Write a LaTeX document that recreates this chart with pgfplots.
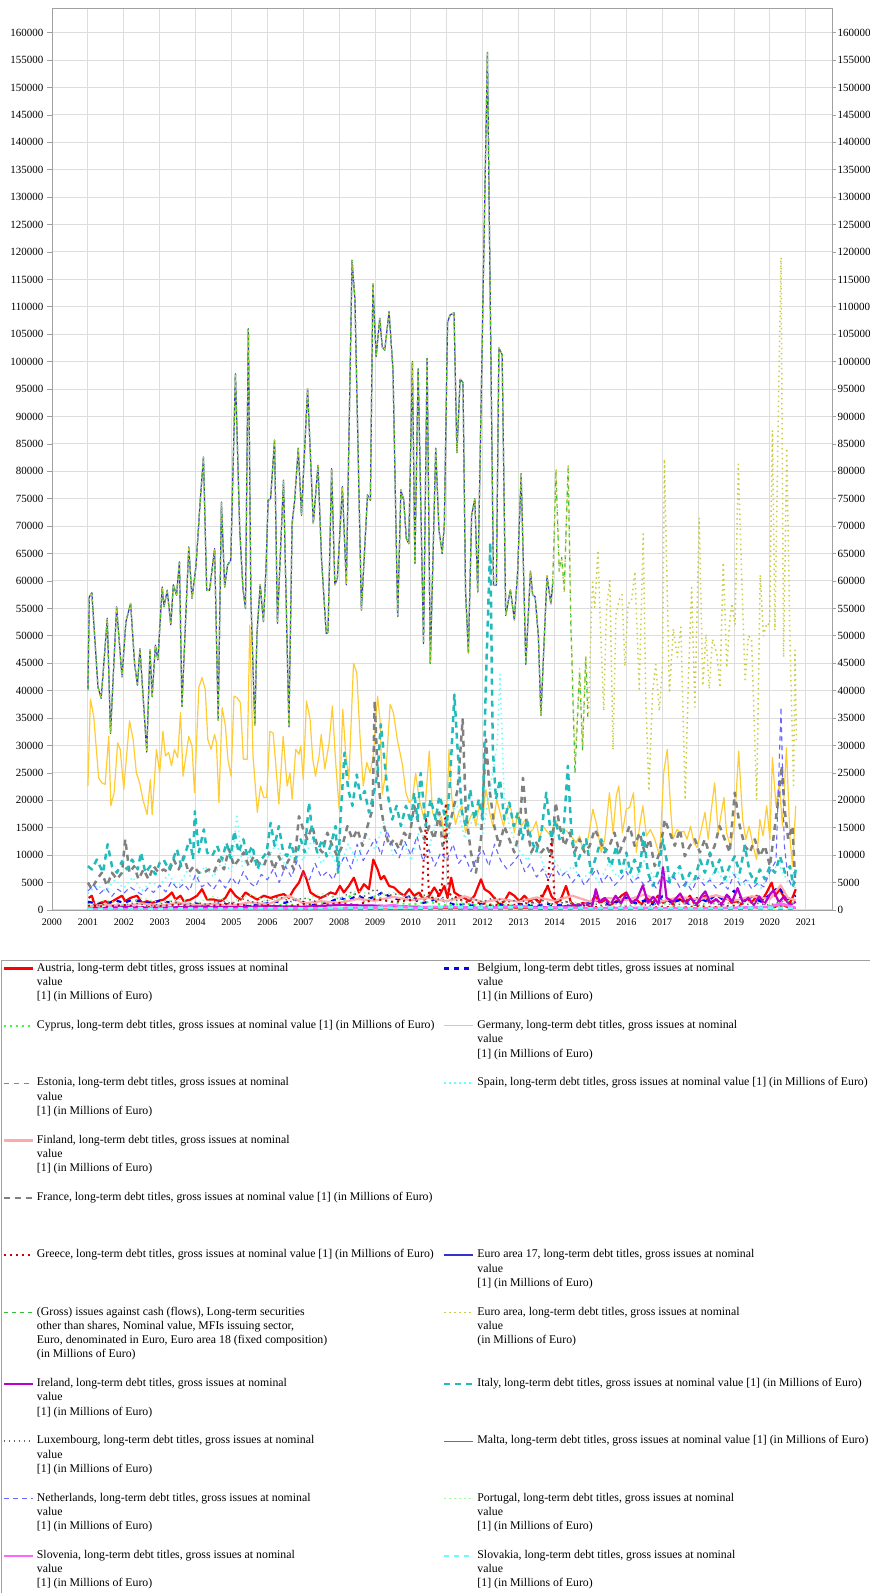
\documentclass[border=0pt]{standalone}
\usepackage{fontspec}
\setmainfont{Liberation Serif}
\newfontfamily\legfont{Liberation Serif}
\usepackage{pgfplots}
\usepackage{pgfplotstable}
\pgfplotsset{compat=1.18}
\definecolor{cAT}{HTML}{FF0000}
\definecolor{cBE}{HTML}{0000FF}
\definecolor{cCY}{HTML}{33FF33}
\definecolor{cDE}{HTML}{FFCC33}
\definecolor{cEE}{HTML}{FF33FF}
\definecolor{cES}{HTML}{66FFFF}
\definecolor{cFI}{HTML}{FFAAAA}
\definecolor{cFR}{HTML}{808080}
\definecolor{cGR}{HTML}{CC0000}
\definecolor{cEAS}{HTML}{3333CC}
\definecolor{cGI}{HTML}{33BB33}
\definecolor{cEA}{HTML}{CCCC44}
\definecolor{cIE}{HTML}{BB00CC}
\definecolor{cIT}{HTML}{22BBBB}
\definecolor{cLU}{HTML}{666666}
\definecolor{cMT}{HTML}{FF3333}
\definecolor{cNL}{HTML}{6666FF}
\definecolor{cPT}{HTML}{99FF99}
\definecolor{cSI}{HTML}{FF66FF}
\definecolor{cSK}{HTML}{66FFFF}
\definecolor{gridgray}{HTML}{DDDDDD}
\definecolor{axisgray}{HTML}{A0A0A0}
\protected\def\LTtxt{long-term debt titles, gross issues at nominal}
\protected\def\Three#1{#1, \LTtxt\newline value\newline \relax[1] (in Millions of Euro)}
\protected\def\One#1{\mbox{#1, \LTtxt\ value [1] (in Millions of Euro)}}
\protected\def\LL#1#2{\parbox[t][#1][t]{405pt}{\raggedright\strut#2}}
\protected\def\LR#1#2{\parbox[t][#1][t]{440pt}{\raggedright\strut#2}}

\pgfplotstableread{
x y
2001.00 40100
2001.04 57100
2001.11 57850
2001.28 40700
2001.37 38600
2001.54 53200
2001.63 32200
2001.80 55300
2001.95 42500
2002.06 52600
2002.19 55900
2002.30 45000
2002.38 41000
2002.45 47700
2002.64 28800
2002.73 47400
2002.79 38900
2002.88 48300
2002.95 45600
2003.07 58900
2003.12 55300
2003.21 58300
2003.31 52000
2003.38 59300
2003.47 57400
2003.55 63500
2003.62 37100
2003.73 54100
2003.81 66200
2003.90 56800
2004.01 62600
2004.13 74700
2004.22 82600
2004.31 58300
2004.39 58300
2004.53 65900
2004.63 34600
2004.72 74400
2004.81 58900
2004.89 62900
2004.98 63800
2005.11 97800
2005.23 69300
2005.32 58600
2005.39 55000
2005.47 106000
2005.54 57100
2005.65 33700
2005.71 50400
2005.80 59300
2005.89 52600
2005.96 62000
2006.02 74700
2006.09 75000
2006.20 85700
2006.28 52300
2006.45 78400
2006.60 33400
2006.69 70500
2006.76 74700
2006.86 84200
2006.95 72000
2007.12 95100
2007.28 70500
2007.41 81100
2007.51 63800
2007.64 50400
2007.69 50700
2007.79 80500
2007.88 59300
2007.95 60500
2008.09 77200
2008.20 59300
2008.36 118500
2008.44 111200
2008.62 54700
2008.79 75700
2008.87 74700
2008.94 114200
2009.03 100900
2009.13 107900
2009.20 102700
2009.27 102100
2009.39 109100
2009.50 98400
2009.63 53500
2009.72 76600
2009.80 74700
2009.87 67800
2009.94 66800
2010.04 100000
2010.11 63200
2010.20 98700
2010.35 48600
2010.45 100600
2010.54 45000
2010.69 84200
2010.78 69300
2010.87 65000
2010.93 70300
2011.02 107200
2011.09 108500
2011.20 108900
2011.28 83400
2011.37 96800
2011.45 96200
2011.52 58400
2011.60 46900
2011.69 72000
2011.78 75000
2011.86 58000
2012.13 156400
2012.30 59200
2012.38 59200
2012.45 102500
2012.54 101300
2012.64 53700
2012.77 58400
2012.88 52900
2012.97 61400
2013.07 79600
2013.20 44800
2013.33 61800
2013.39 57500
2013.46 57100
2013.55 49900
2013.62 35500
2013.79 60900
2013.90 55800
2013.95 59700
}\eaS

\begin{document}
\begin{tikzpicture}[x=1pt,y=1pt]
\useasboundingbox (0,0) rectangle (870,1593);
\begin{axis}[
  at={(52pt,683pt)}, anchor=south west,
  scale only axis, width=780pt, height=902pt,
  xmin=2000, xmax=2021.73, ymin=0, ymax=164500,
  xtick={2000,2001,...,2021}, ytick={0,5000,...,160000},
  scaled ticks=false,
  /pgf/number format/fixed,
  /pgf/number format/1000 sep={},
  /pgf/number format/assume math mode=true,
  grid=major, major grid style={draw=gridgray, line width=1pt},
  axis line style={draw=axisgray, line width=0.9pt},
  ytick pos=left, xtick pos=bottom, tick align=outside,
  major tick length=5pt,
  xtick style={draw=none},
  ytick style={draw=axisgray, line width=0.8pt},
  yticklabel style={font=\fontsize{11}{13}\selectfont},
  xticklabel style={font=\fontsize{10}{12}\selectfont},
  every axis plot/.append style={line join=round},
  legend columns=2,
  legend style={at={(-0.0654,-0.0554)}, anchor=north west,
    draw=axisgray, line width=0.9pt, fill=white,
    inner xsep=0pt, inner ysep=1pt, row sep=0pt, column sep=0pt,
    cells={anchor=base west},
    nodes={inner sep=0pt, text depth=},
    font=\legfont\fontsize{11.8}{14.2}\selectfont},
  legend image code/.code={\path (0pt,2.5pt) (33pt,2.5pt); \draw[#1] (1pt,2.8pt) -- (30pt,2.8pt);},
]
% Austria
\addplot[cAT, line width=2.2pt] table {
2001.02 2200
2001.11 2600
2001.20 700
2001.34 1300
2001.48 1600
2001.62 1300
2001.76 1900
2001.95 2600
2002.04 1600
2002.18 2200
2002.37 2600
2002.51 1300
2002.65 1600
2002.79 1300
2002.93 1600
2003.11 1900
2003.25 2600
2003.34 3200
2003.44 1900
2003.58 2600
2003.67 1600
2003.86 1900
2004.04 2600
2004.18 3800
2004.32 1900
2004.51 1900
2004.69 1600
2004.83 2200
2004.97 3800
2005.11 2600
2005.25 1900
2005.39 3200
2005.53 2600
2005.72 1900
2005.90 2600
2006.09 2200
2006.27 2600
2006.46 2900
2006.60 2200
2006.74 3800
2006.88 5000
2007.00 7100
2007.09 5600
2007.20 3200
2007.34 2600
2007.48 2200
2007.62 2600
2007.76 3200
2007.90 2900
2008.02 4400
2008.13 3200
2008.27 4400
2008.41 5900
2008.55 3200
2008.69 4700
2008.83 3800
2008.95 9200
2009.07 7400
2009.16 5600
2009.25 6200
2009.39 4400
2009.53 4100
2009.67 3200
2009.81 2600
2009.95 3800
2010.09 2600
2010.23 3200
2010.37 1900
2010.51 2600
2010.65 4100
2010.79 2600
2010.93 4400
2011.02 2200
2011.12 5900
2011.21 3200
2011.35 2600
2011.49 2200
2011.63 1600
2011.77 2600
2011.95 5600
2012.05 3800
2012.19 3200
2012.32 2200
2012.46 1000
2012.60 1600
2012.74 3200
2012.88 2600
2013.02 1600
2013.16 2600
2013.30 1600
2013.44 2200
2013.58 1300
2013.72 3200
2013.81 4400
2013.91 2600
2014.05 1300
2014.19 2200
2014.32 4400
2014.46 1300
2014.60 700
2014.79 1300
2014.98 700
2015.12 2600
2015.26 1300
2015.44 1900
2015.58 1000
2015.72 1600
2015.86 2600
2016.00 3200
2016.14 1300
2016.28 1900
2016.42 1000
2016.56 2200
2016.74 1300
2016.88 2600
2017.02 1300
2017.16 1900
2017.30 1000
2017.44 2200
2017.63 1300
2017.77 2600
2017.91 1000
2018.05 1600
2018.19 2600
2018.32 1300
2018.51 1900
2018.65 1000
2018.79 2600
2018.93 1300
2019.07 1600
2019.21 1000
2019.35 2200
2019.49 1300
2019.63 2600
2019.77 1600
2019.91 3200
2020.05 5000
2020.14 2600
2020.28 3800
2020.42 1900
2020.56 1300
2020.65 2600
2020.72 3800
};
\addlegendentry{\LL{57.3pt}{\Three{Austria}}}
% Belgium
\addplot[cBE, line width=2.2pt, dash pattern=on 5pt off 5pt] table {
2001.00 1500
2001.25 1200
2001.50 1000
2001.75 1800
2002.00 1300
2002.25 1900
2002.50 1500
2002.75 1200
2003.00 1700
2003.25 1400
2003.50 1300
2003.75 1100
2004.00 1200
2004.25 900
2004.50 1000
2004.75 1300
2005.00 800
2005.25 900
2005.50 700
2005.75 1000
2006.00 1200
2006.25 1500
2006.50 1300
2006.75 2000
2007.00 1400
2007.25 900
2007.50 1200
2007.75 1500
2008.00 2200
2008.25 1800
2008.50 2600
2008.75 2000
2009.00 2400
2009.20 3200
2009.50 2100
2009.75 1900
2010.00 2600
2010.25 1200
2010.50 1500
2010.75 2200
2011.00 1400
2011.25 900
2011.50 1100
2011.75 800
2012.00 1200
2012.25 700
2012.50 1000
2012.75 600
2013.00 1100
2013.25 900
2013.50 700
2013.75 1200
2014.00 800
2014.25 1000
2014.50 600
2014.75 900
2015.00 1300
2015.25 1800
2015.50 1000
2015.75 1500
2016.00 2200
2016.25 1200
2016.50 1700
2016.75 1000
2017.00 2500
2017.25 1400
2017.50 1800
2017.75 1100
2018.00 2300
2018.25 1500
2018.50 2800
2018.75 1600
2019.00 3500
2019.25 1800
2019.50 2400
2019.75 1500
2020.00 2800
2020.25 4200
2020.50 2000
2020.72 2600
};
\addlegendentry{\LR{57.3pt}{\Three{Belgium}}}
% Cyprus
\addplot[cCY, line width=2pt, dash pattern=on 2pt off 4pt] table {
2001.0 200
2001.5 400
2002.0 300
2002.5 500
2003.0 350
2003.5 600
2004.0 400
2004.5 700
2005.0 500
2005.5 800
2006.0 600
2006.5 1000
2007.0 800
2007.5 1300
2008.0 1100
2008.4 3000
2008.7 1500
2009.0 2500
2009.5 1400
2010.0 1000
2010.5 1500
2011.0 800
2011.5 1200
2012.0 700
2012.5 900
2013.0 500
2013.5 600
2014.0 400
2014.5 500
2015.0 300
2015.5 400
2016.0 250
2016.5 350
2017.0 300
2017.5 450
2018.0 300
2018.5 400
2019.0 350
2019.5 500
2020.0 400
2020.5 600
2020.72 350
};
\addlegendentry{\LL{57.3pt}{\One{Cyprus}}}
% Germany
\addplot[cDE, line width=1.2pt] table {
2001.00 22600
2001.07 38500
2001.16 35400
2001.30 24100
2001.39 23200
2001.48 22900
2001.58 31700
2001.64 19000
2001.73 21400
2001.83 30500
2001.90 29300
2002.00 22000
2002.16 34500
2002.26 31100
2002.35 25000
2002.44 23200
2002.53 20200
2002.65 17400
2002.74 23800
2002.79 17400
2002.91 29300
2003.00 25000
2003.09 32600
2003.16 28100
2003.25 28700
2003.33 26300
2003.41 29300
2003.50 27800
2003.58 36000
2003.65 24400
2003.81 31700
2003.90 29900
2003.97 21400
2004.09 40600
2004.18 42400
2004.27 40200
2004.34 31100
2004.43 29300
2004.53 32000
2004.58 30500
2004.65 19600
2004.74 36900
2004.83 33600
2004.90 27500
2004.99 24400
2005.07 39000
2005.16 38700
2005.25 37800
2005.33 27500
2005.44 27500
2005.51 52000
2005.60 28100
2005.72 17800
2005.81 22600
2005.90 20500
2005.98 20500
2006.07 32600
2006.16 32300
2006.23 26900
2006.32 19300
2006.44 31700
2006.55 22600
2006.63 25000
2006.69 20200
2006.79 29300
2006.88 28400
2006.93 29900
2007.00 23800
2007.09 38100
2007.19 34800
2007.26 27800
2007.34 24400
2007.44 28100
2007.50 32000
2007.60 25700
2007.72 30500
2007.81 37200
2007.90 27200
2008.00 18400
2008.10 36600
2008.18 28700
2008.27 23800
2008.40 45000
2008.49 43300
2008.58 31700
2008.67 22600
2008.77 26900
2008.86 25000
2008.95 28100
2009.07 39000
2009.14 34500
2009.20 21100
2009.30 25000
2009.42 37500
2009.51 36000
2009.62 31100
2009.76 26600
2009.86 21400
2009.95 19600
2010.04 20200
2010.13 25000
2010.23 20200
2010.37 16500
2010.51 29000
2010.60 17800
2010.74 15600
2010.85 17100
2010.93 12900
2010.98 14700
2011.06 29300
2011.14 20200
2011.24 15600
2011.33 17800
2011.42 19000
2011.52 14100
2011.61 16200
2011.72 17800
2011.81 15300
2011.91 19600
2012.00 17100
2012.09 22000
2012.19 17800
2012.28 15300
2012.39 20200
2012.48 17800
2012.58 15300
2012.70 19000
2012.79 18400
2012.88 14100
2012.98 17800
2013.07 15300
2013.19 16500
2013.30 14100
2013.40 14700
2013.49 16200
2013.58 12900
2013.67 15300
2013.78 14400
2013.90 13500
2014.00 16200
2014.12 15300
2014.23 14700
2014.34 14400
2014.46 13500
2014.60 12300
2014.70 13500
2014.79 10800
2014.93 12900
2015.07 18400
2015.18 15300
2015.30 10500
2015.40 12900
2015.53 21400
2015.63 14100
2015.72 20800
2015.79 22600
2015.89 14100
2016.00 18400
2016.09 18700
2016.20 21400
2016.28 10500
2016.37 15300
2016.46 19000
2016.56 13500
2016.67 14700
2016.79 12900
2016.93 9900
2017.04 25000
2017.14 29300
2017.24 17800
2017.30 12900
2017.41 14700
2017.50 14100
2017.60 14400
2017.69 12900
2017.79 15300
2017.88 12300
2017.97 11400
2018.09 14700
2018.19 17800
2018.28 12900
2018.37 18400
2018.46 23200
2018.56 14100
2018.65 17800
2018.72 20500
2018.79 14100
2018.90 11700
2019.01 15300
2019.13 29000
2019.24 16500
2019.33 12900
2019.42 15300
2019.53 11700
2019.63 9200
2019.72 16500
2019.81 13500
2019.91 19000
2020.00 12900
2020.07 27800
2020.17 19000
2020.26 23200
2020.35 15300
2020.46 29600
2020.56 12900
2020.63 8000
2020.72 19000
};
\addlegendentry{\LR{57.3pt}{\Three{Germany}}}
% Estonia
\addplot[cEE, line width=1.2pt, dash pattern=on 5pt off 5pt] table {
2001.0 20
2003.0 40
2005.0 50
2007.0 40
2009.0 60
2011.0 30
2013.0 80
2014.0 60
2015.0 100
2016.0 70
2017.0 60
2018.0 90
2019.0 120
2020.0 200
2020.72 80
};
\addlegendentry{\LL{57.3pt}{\Three{Estonia}}}
% Spain
\addplot[cES, line width=1.5pt, dash pattern=on 1.5pt off 3.5pt] table {
2001.00 3000
2001.25 4500
2001.50 3500
2001.75 5500
2002.00 4000
2002.25 6000
2002.50 3500
2002.75 5000
2003.00 4500
2003.25 6500
2003.50 4000
2003.75 7000
2004.00 5000
2004.25 8000
2004.50 6000
2004.75 9000
2005.00 7000
2005.15 17500
2005.30 8000
2005.50 10000
2005.75 7500
2006.00 9500
2006.25 12000
2006.50 8000
2006.75 11000
2007.00 9000
2007.25 13000
2007.50 8500
2007.75 10500
2008.00 7500
2008.25 12000
2008.50 9000
2008.75 14000
2009.00 11000
2009.25 16000
2009.50 10000
2009.75 13000
2010.00 9000
2010.25 15000
2010.50 11000
2010.75 18000
2011.00 12000
2011.25 20000
2011.50 13000
2011.75 17000
2012.00 14000
2012.25 24000
2012.40 30000
2012.48 43000
2012.60 20000
2012.75 15000
2013.00 11000
2013.25 9000
2013.50 12000
2013.75 7000
2014.00 9000
2014.25 6500
2014.50 8000
2014.75 5500
2015.00 7000
2015.25 5000
2015.50 8500
2015.75 6000
2016.00 7500
2016.25 5500
2016.50 9000
2016.75 6000
2017.00 8000
2017.25 5500
2017.50 7000
2017.75 4500
2018.00 6500
2018.25 5000
2018.50 7500
2018.75 5000
2019.00 7000
2019.25 4500
2019.50 6000
2019.75 4000
2020.00 6500
2020.25 8500
2020.50 5000
2020.72 4000
};
\addlegendentry{\LR{57.3pt}{\One{Spain}}}
% Finland
\addplot[cFI, line width=2.2pt] table {
2001.0 600
2001.5 1000
2002.0 700
2002.5 1200
2003.0 800
2003.5 1300
2004.0 900
2004.5 1100
2005.0 800
2005.5 1400
2006.0 1000
2006.6 2600
2007.0 1200
2007.5 1600
2008.0 1300
2008.5 2000
2009.0 1700
2009.5 2400
2010.0 1800
2010.5 2200
2011.0 1600
2011.5 2500
2012.0 1400
2012.5 2000
2013.0 1500
2013.5 2300
2014.0 1700
2014.5 2600
2015.0 1500
2015.5 2200
2016.0 1800
2016.5 2800
2017.0 1600
2017.5 2400
2018.0 1900
2018.5 2700
2019.0 1700
2019.5 2500
2020.0 2000
2020.3 4500
2020.5 2200
2020.72 1800
};
\addlegendentry{\LL{57.3pt}{\Three{Finland}}}
\addlegendimage{empty legend}\addlegendentry{}
% France
\addplot[cFR, line width=2.5pt, dash pattern=on 6pt off 5pt] table {
2001.00 5000
2001.11 3800
2001.25 5600
2001.39 6800
2001.53 4400
2001.67 6800
2001.81 5600
2001.95 6800
2002.04 12900
2002.16 6800
2002.29 8000
2002.41 5600
2002.55 7400
2002.69 5600
2002.83 8000
2002.97 6800
2003.11 7400
2003.25 6800
2003.39 9200
2003.53 7400
2003.67 9800
2003.81 6800
2003.95 8000
2004.09 6800
2004.23 6800
2004.37 7400
2004.51 6800
2004.65 9200
2004.79 7400
2004.93 11100
2005.07 8000
2005.20 9200
2005.34 10500
2005.48 8000
2005.62 9800
2005.76 8600
2005.90 8000
2006.04 10500
2006.18 7400
2006.32 9800
2006.46 7400
2006.60 9200
2006.74 7400
2006.88 17100
2007.00 14700
2007.11 12900
2007.25 15300
2007.39 11700
2007.53 10500
2007.67 14100
2007.81 11700
2007.95 9800
2008.09 11700
2008.23 15300
2008.37 12900
2008.51 14700
2008.65 11700
2008.79 15300
2008.93 18400
2008.99 38100
2009.07 25000
2009.16 19000
2009.25 15300
2009.39 11700
2009.53 12900
2009.67 11100
2009.81 14100
2009.95 12900
2010.09 19000
2010.23 15300
2010.37 12900
2010.51 15300
2010.65 12900
2010.79 17800
2010.88 11700
2011.02 14100
2011.16 17800
2011.30 22000
2011.44 34800
2011.53 17800
2011.67 10500
2011.81 6800
2011.95 12900
2012.09 31100
2012.19 22000
2012.32 15300
2012.46 11700
2012.60 15300
2012.74 12900
2012.88 10500
2013.02 14100
2013.12 24100
2013.23 15300
2013.35 10500
2013.49 12300
2013.63 10500
2013.77 11700
2013.91 9800
2014.03 19600
2014.14 15300
2014.28 11700
2014.42 14100
2014.56 10500
2014.70 12900
2014.84 10500
2014.98 11700
2015.12 14700
2015.26 12900
2015.39 10500
2015.53 11700
2015.67 14100
2015.81 10500
2015.95 12900
2016.09 15300
2016.23 11700
2016.37 14100
2016.51 10500
2016.65 12900
2016.79 8000
2016.93 10500
2017.07 16500
2017.21 14100
2017.35 11700
2017.49 14700
2017.63 9800
2017.77 11700
2017.91 12900
2018.05 10500
2018.19 12900
2018.33 9800
2018.46 11700
2018.60 15300
2018.74 12900
2018.88 10500
2019.02 21400
2019.16 15300
2019.30 11700
2019.44 10500
2019.58 12900
2019.72 9800
2019.86 11700
2020.00 8000
2020.14 15300
2020.26 21400
2020.33 26300
2020.42 17800
2020.51 12900
2020.63 15300
2020.70 5600
};
\addlegendentry{\LL{57.3pt}{\One{France}}}
\addlegendimage{empty legend}\addlegendentry{}
% Greece
\addplot[cGR, line width=2pt, dash pattern=on 2pt off 4pt] table {
2001.0 800
2001.5 600
2002.0 900
2002.5 500
2003.0 700
2003.5 1000
2004.0 600
2004.5 800
2005.0 1200
2005.5 700
2006.0 900
2006.5 600
2007.0 1100
2007.5 800
2008.0 1300
2008.5 900
2009.0 2000
2009.5 1500
2010.0 1800
2010.3 2500
2010.42 17000
2010.5 3000
2010.7 1500
2010.88 5000
2010.97 19500
2011.05 3000
2011.5 1500
2012.0 1200
2012.5 800
2013.0 1000
2013.5 1500
2013.8 4000
2013.92 13000
2014.0 2000
2014.5 1200
2015.0 600
2015.5 400
2016.0 500
2016.5 300
2017.0 600
2017.5 400
2018.0 700
2018.5 500
2019.0 800
2019.5 400
2020.0 600
2020.5 500
2020.72 400
};
\addlegendentry{\LL{57.3pt}{\One{Greece}}}
% Euro area 17
\addplot[cEAS, line width=1.2pt] table {\eaS};
\addlegendentry{\LR{57.3pt}{\Three{Euro area 17}}}
% Gross issues, Euro area 18
\addplot[cGI, line width=1.2pt, dash pattern=on 4pt off 4pt, forget plot] table {\eaS};
\addplot[cGI, line width=1.2pt, dash pattern=on 4pt off 4pt] table {
2013.95 59700
2014.04 80000
2014.13 61800
2014.20 64300
2014.27 58400
2014.38 80900
2014.45 53300
2014.57 25000
2014.70 43500
2014.78 29200
2014.87 46100
2014.93 35000
};
\addlegendentry{\LL{71.5pt}{(Gross) issues against cash (flows), Long-term securities\newline other than shares, Nominal value, MFIs issuing sector,\newline Euro, denominated in Euro, Euro area 18 (fixed composition)\newline (in Millions of Euro)}}
% Euro area
\addplot[cEA, line width=1.5pt, dash pattern=on 1.5pt off 3.5pt, forget plot] table {\eaS};
\addplot[cEA, line width=1.5pt, dash pattern=on 1.5pt off 3.5pt] table {
2013.95 59700
2014.04 80500
2014.13 62000
2014.20 64000
2014.27 58000
2014.38 81000
2014.45 55000
2014.57 27000
2014.70 44000
2014.78 30000
2014.87 46500
2014.95 36000
2015.03 54600
2015.06 59800
2015.12 55200
2015.21 65600
2015.28 51300
2015.37 36300
2015.45 55200
2015.54 60100
2015.63 29200
2015.71 53900
2015.80 56500
2015.88 57500
2015.96 44500
2016.05 55900
2016.14 56200
2016.24 61700
2016.36 40300
2016.47 68600
2016.54 39000
2016.63 21700
2016.73 39600
2016.82 44800
2016.92 36300
2017.01 44800
2017.06 82200
2017.20 39600
2017.31 51300
2017.42 46100
2017.52 51600
2017.64 20100
2017.73 42200
2017.82 58800
2017.91 37000
2018.03 71500
2018.13 40900
2018.22 50300
2018.31 40300
2018.40 49400
2018.52 46800
2018.61 40600
2018.70 63400
2018.80 44200
2018.87 52000
2018.94 55900
2019.03 52000
2019.12 81300
2019.21 61700
2019.31 41600
2019.40 50000
2019.49 49400
2019.63 20100
2019.73 61100
2019.82 50000
2019.91 52300
2019.99 52000
2020.07 87500
2020.14 51000
2020.22 84800
2020.31 119000
2020.38 46100
2020.47 84200
2020.56 48700
2020.66 22700
2020.70 47400
2020.74 31000
};
\addlegendentry{\LR{71.5pt}{Euro area, \LTtxt\newline value\newline (in Millions of Euro)}}
% Ireland
\addplot[cIE, line width=2.2pt] table {
2001.0 300
2002.0 500
2003.0 400
2004.0 600
2005.0 500
2006.0 700
2007.0 600
2008.0 900
2009.0 800
2010.0 600
2011.0 500
2012.0 400
2013.0 600
2014.0 500
2014.5 800
2014.9 1200
2015.05 700
2015.15 3800
2015.25 1500
2015.4 2200
2015.55 900
2015.7 2600
2015.85 1200
2016.0 3000
2016.15 1400
2016.3 2000
2016.46 4500
2016.6 1300
2016.75 2400
2016.9 1000
2017.02 7800
2017.12 2200
2017.3 1500
2017.5 3000
2017.65 1200
2017.8 2200
2017.95 900
2018.1 2600
2018.2 3400
2018.35 1200
2018.5 2000
2018.65 900
2018.8 2800
2018.95 1500
2019.1 4000
2019.25 1300
2019.4 2200
2019.55 900
2019.7 2500
2019.85 1100
2020.0 2800
2020.1 3600
2020.25 1400
2020.4 2500
2020.55 900
2020.72 1500
};
\addlegendentry{\LL{57.3pt}{\Three{Ireland}}}
% Italy
\addplot[cIT, line width=2.5pt, dash pattern=on 6pt off 5pt] table {
2001.00 8000
2001.11 7400
2001.25 9200
2001.42 6800
2001.55 12000
2001.67 8000
2001.81 6800
2001.95 8900
2002.09 7400
2002.23 9200
2002.39 7400
2002.48 10500
2002.60 6800
2002.74 8000
2002.88 6500
2003.00 8600
2003.11 9200
2003.25 7400
2003.37 9200
2003.48 11100
2003.60 8000
2003.72 10500
2003.84 12900
2003.93 9200
2003.98 18000
2004.09 10500
2004.23 14700
2004.32 10500
2004.46 9800
2004.60 11700
2004.74 9200
2004.86 12300
2004.97 9500
2005.08 14400
2005.20 10500
2005.33 12900
2005.44 9800
2005.58 11700
2005.72 7400
2005.83 9200
2005.98 10500
2006.09 15900
2006.20 11700
2006.32 15300
2006.44 10500
2006.55 9800
2006.65 12300
2006.79 9200
2006.93 12900
2007.04 10500
2007.16 19600
2007.25 14100
2007.39 10500
2007.53 12900
2007.65 9800
2007.76 11700
2007.90 15300
2007.97 6800
2008.04 17100
2008.15 28700
2008.25 22000
2008.37 19000
2008.49 24700
2008.60 20200
2008.71 21700
2008.83 17800
2008.95 20800
2009.07 25000
2009.16 33900
2009.25 28100
2009.36 20800
2009.48 16500
2009.60 19000
2009.72 15300
2009.86 19000
2010.00 15900
2010.09 21400
2010.18 16500
2010.27 25000
2010.41 15300
2010.55 20200
2010.69 16500
2010.79 20800
2010.88 19000
2011.00 15300
2011.09 23800
2011.21 39300
2011.30 29300
2011.42 17800
2011.53 15300
2011.65 22000
2011.77 16500
2011.89 20200
2012.00 16500
2012.09 42100
2012.21 67000
2012.28 29300
2012.37 20200
2012.48 23800
2012.60 16500
2012.74 19600
2012.86 15300
2012.98 17800
2013.10 12900
2013.23 16500
2013.35 12900
2013.49 10500
2013.63 14100
2013.77 21400
2013.91 12900
2014.03 16500
2014.14 12900
2014.25 14100
2014.37 26300
2014.46 15300
2014.60 8000
2014.74 10500
2014.88 12900
2015.02 6800
2015.16 9800
2015.30 12900
2015.44 10500
2015.58 8000
2015.72 11700
2015.86 6800
2016.00 10500
2016.11 6800
2016.23 9200
2016.37 6800
2016.48 14100
2016.60 6800
2016.74 4400
2016.88 6800
2017.02 12900
2017.12 9200
2017.21 5000
2017.35 6800
2017.49 8000
2017.63 4400
2017.77 6800
2017.91 5600
2018.05 9200
2018.19 6800
2018.33 10500
2018.46 6800
2018.60 9200
2018.74 5600
2018.88 8000
2019.02 9800
2019.16 6800
2019.30 11700
2019.44 6800
2019.58 5000
2019.72 7400
2019.86 5600
2020.00 8000
2020.14 6800
2020.28 9800
2020.42 6800
2020.56 8000
2020.65 4400
2020.72 7400
};
\addlegendentry{\LR{57.3pt}{\One{Italy}}}
% Luxembourg
\addplot[cLU, line width=1.5pt, dash pattern=on 1.5pt off 3.5pt] table {
2001.00 1200
2001.33 800
2001.67 1500
2002.00 900
2002.33 1300
2002.67 700
2003.00 1100
2003.33 1600
2003.67 900
2004.00 1400
2004.33 1000
2004.67 1800
2005.00 1200
2005.33 2000
2005.67 1300
2006.00 1700
2006.33 2400
2006.67 1500
2007.00 2200
2007.33 1600
2007.67 2800
2008.00 2000
2008.33 3200
2008.67 2400
2009.00 3800
2009.33 2600
2009.67 3000
2010.00 2200
2010.33 2800
2010.67 1800
2011.00 2500
2011.33 1600
2011.67 2100
2012.00 1500
2012.33 2300
2012.67 1400
2013.00 1900
2013.33 1200
2013.67 1700
2014.00 1000
2014.33 1500
2014.67 900
2015.00 1300
2015.33 800
2015.67 1200
2016.00 700
2016.33 1100
2016.67 800
2017.00 1400
2017.33 900
2017.67 1200
2018.00 800
2018.33 1300
2018.67 900
2019.00 1500
2019.33 1000
2019.67 1200
2020.00 900
2020.33 1600
2020.72 1000
};
\addlegendentry{\LL{57.3pt}{\Three{Luxembourg}}}
% Malta
\addplot[cMT, line width=1pt] table {
2001.0 50
2002.0 90
2003.0 80
2004.0 120
2005.0 60
2006.0 140
2007.0 100
2008.0 120
2008.5 260
2009.0 200
2010.0 150
2010.5 320
2011.0 250
2012.0 180
2012.5 380
2013.0 300
2014.0 200
2014.5 420
2015.0 350
2016.0 250
2016.5 500
2017.0 400
2018.0 300
2018.5 520
2019.0 350
2020.0 450
2020.3 800
2020.72 300
};
\addlegendentry{\LR{57.3pt}{\One{Malta}}}
% Netherlands
\addplot[cNL, line width=1.1pt, dash pattern=on 5pt off 4pt] table {
2001.00 3500
2001.17 4500
2001.33 3000
2001.50 4000
2001.67 2500
2001.83 3800
2002.00 3000
2002.17 4200
2002.33 3500
2002.50 2800
2002.67 4000
2002.83 3200
2003.00 4500
2003.17 3300
2003.33 5200
2003.50 3800
2003.67 4800
2003.83 3500
2004.00 6500
2004.17 4200
2004.33 5000
2004.50 3800
2004.67 5500
2004.83 4000
2005.00 6000
2005.17 4500
2005.33 7000
2005.50 5000
2005.67 4200
2005.83 6500
2006.00 5500
2006.17 7500
2006.33 5000
2006.50 8000
2006.67 6000
2006.83 9000
2007.00 6500
2007.17 5500
2007.33 8500
2007.50 6000
2007.67 7000
2007.83 5500
2008.00 8000
2008.17 10000
2008.33 7500
2008.50 12000
2008.67 9000
2008.83 11000
2009.00 13000
2009.17 10000
2009.33 14500
2009.50 11500
2009.67 9500
2009.83 12500
2010.00 10000
2010.17 13500
2010.33 9000
2010.50 11000
2010.67 8000
2010.83 10500
2011.00 9000
2011.17 12000
2011.33 8500
2011.50 10000
2011.67 7000
2011.83 9500
2012.00 11000
2012.17 8000
2012.33 12000
2012.50 9000
2012.67 7500
2012.83 8500
2013.00 10000
2013.17 7000
2013.33 8500
2013.50 6000
2013.67 7500
2013.83 5500
2014.00 8000
2014.17 6000
2014.33 7000
2014.50 5000
2014.67 6500
2014.83 4500
2015.00 6000
2015.17 7500
2015.33 5000
2015.50 6500
2015.67 4500
2015.83 5500
2016.00 7000
2016.17 5000
2016.33 6000
2016.50 4500
2016.67 5500
2016.83 4000
2017.00 6500
2017.17 5000
2017.33 6000
2017.50 4000
2017.67 5000
2017.83 3500
2018.00 6000
2018.17 4500
2018.33 5500
2018.50 4000
2018.67 5000
2018.83 3800
2019.00 6500
2019.17 4500
2019.33 5500
2019.50 3800
2019.67 5000
2019.83 4200
2020.00 7000
2020.17 9000
2020.31 37000
2020.40 12000
2020.50 6000
2020.60 4500
2020.72 5000
};
\addlegendentry{\LL{57.3pt}{\Three{Netherlands}}}
% Portugal
\addplot[cPT, line width=1.2pt, dash pattern=on 1.5pt off 3.5pt] table {
2001.0 1000
2001.5 1800
2002.0 900
2002.5 2200
2003.0 1300
2003.5 2000
2004.0 1100
2004.5 2500
2005.0 1500
2005.5 2800
2006.0 1600
2006.5 2400
2007.0 1800
2007.5 3000
2008.0 2000
2008.5 3500
2009.0 2600
2009.5 3200
2010.0 2200
2010.5 2800
2011.0 1600
2011.5 1200
2012.0 900
2012.5 1400
2013.0 800
2013.5 1200
2014.0 1000
2014.5 1500
2015.0 900
2015.5 1300
2016.0 800
2016.5 1200
2017.0 1000
2017.5 1400
2018.0 900
2018.5 1300
2019.0 1100
2019.5 1500
2020.0 1000
2020.5 1700
2020.72 1100
};
\addlegendentry{\LR{57.3pt}{\Three{Portugal}}}
% Slovenia
\addplot[cSI, line width=2.5pt] table {
2001.0 100
2002.0 150
2003.0 120
2004.0 200
2005.0 180
2006.0 250
2007.0 300
2008.0 250
2009.0 500
2009.5 900
2010.0 400
2011.0 600
2012.0 300
2013.0 700
2013.5 400
2014.0 500
2015.0 300
2016.0 400
2017.0 350
2018.0 300
2019.0 400
2020.0 600
2020.3 1200
2020.72 400
};
\addlegendentry{\LL{57.3pt}{\Three{Slovenia}}}
% Slovakia
\addplot[cSK, line width=2.5pt, dash pattern=on 5pt off 5pt] table {
2001.0 250
2002.0 300
2003.0 250
2004.0 350
2005.0 300
2006.0 350
2007.0 300
2008.0 400
2009.0 450
2010.0 400
2011.0 500
2012.0 450
2013.0 500
2014.0 400
2015.0 350
2016.0 400
2017.0 350
2018.0 300
2019.0 400
2020.0 450
2020.72 350
};
\addlegendentry{\LR{57.3pt}{\Three{Slovakia}}}
\end{axis}
\begin{axis}[
  at={(52pt,683pt)}, anchor=south west,
  scale only axis, width=780pt, height=902pt,
  xmin=2000, xmax=2021.73, ymin=0, ymax=164500,
  axis x line=none, axis y line*=right,
  y axis line style={draw=none},
  ytick={0,5000,...,160000}, scaled ticks=false,
  /pgf/number format/fixed,
  /pgf/number format/1000 sep={},
  /pgf/number format/assume math mode=true,
  tick align=outside, major tick length=4pt,
  ytick style={draw=axisgray, line width=0.8pt},
  yticklabel style={font=\fontsize{11}{13}\selectfont, xshift=-2pt},
]
\end{axis}
\end{tikzpicture}
\end{document}
